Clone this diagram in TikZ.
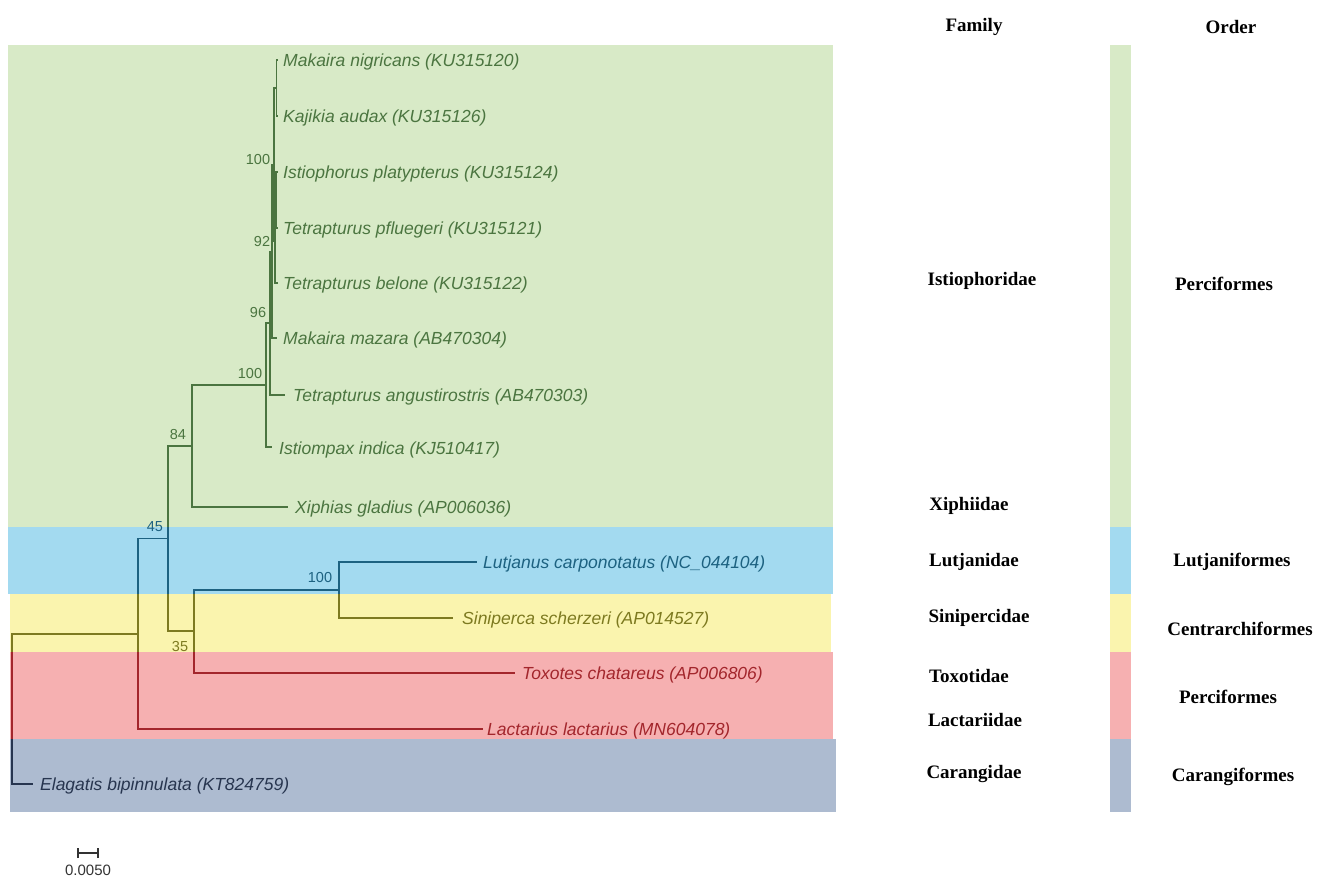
\documentclass[tikz,border=0pt]{standalone}
\usepackage{fontspec}
\setmainfont{Liberation Serif}
\setsansfont{Liberation Sans}
\definecolor{bgG}{HTML}{D8EAC7}
\definecolor{bgB}{HTML}{A3DAF0}
\definecolor{bgY}{HTML}{FAF4AE}
\definecolor{bgR}{HTML}{F6B0B1}
\definecolor{bgN}{HTML}{ADBBD0}
\definecolor{lnG}{HTML}{4B7540}
\definecolor{lnB}{HTML}{1D6281}
\definecolor{lnY}{HTML}{7D7A20}
\definecolor{lnR}{HTML}{A3262C}
\definecolor{lnN}{HTML}{27354F}
\tikzset{
  tiplab/.style={anchor=west, inner sep=0pt, font=\sffamily\itshape\fontsize{17.5}{20}\selectfont},
  boot/.style={inner sep=0pt, font=\sffamily\fontsize{14.5}{16}\selectfont},
  rlab/.style={inner sep=0pt, text=black, font=\bfseries\fontsize{19}{22}\selectfont},
  branch/.style={line width=1.4pt},
}
\newcommand\treeedges{%
  \draw[branch] (root) |- (n45);   \draw[branch] (root) |- (tEla);
  \draw[branch] (n45) |- (n168);   \draw[branch] (n45) |- (tLac);
  \draw[branch] (n168) |- (n84);   \draw[branch] (n168) |- (n35);
  \draw[branch] (n84) |- (n100a);  \draw[branch] (n84) |- (tXip);
  \draw[branch] (n35) |- (n100b);  \draw[branch] (n35) |- (tTox);
  \draw[branch] (n100b) |- (tLut); \draw[branch] (n100b) |- (tSin);
  \draw[branch] (n100a) |- (n96);  \draw[branch] (n100a) |- (tIsm);
  \draw[branch] (n96) |- (n92);    \draw[branch] (n96) |- (tAng);
  \draw[branch] (n92) |- (n100t);  \draw[branch] (n92) |- (tMaz);
  \draw[branch] (n100t) |- (nA);   \draw[branch] (n100t) |- (nB);
  \draw[branch] (nA) |- (tNig);    \draw[branch] (nA) |- (tKaj);
  \draw[branch] (nB) |- (nC);      \draw[branch] (nB) |- (tBel);
  \draw[branch] (nC) |- (tIst);    \draw[branch] (nC) |- (tPfl);
}
\begin{document}
\begin{tikzpicture}[x=1pt,y=-1pt]
\useasboundingbox (0,0) rectangle (1325,877);
% background bands
\fill[bgG] (8,45) rectangle (833,527);
\fill[bgB] (8,527) rectangle (833,594);
\fill[bgY] (10,594) rectangle (831,652);
\fill[bgR] (10,652) rectangle (833,739);
\fill[bgN] (10,739) rectangle (836,812);
% order bar
\fill[bgG] (1110,45) rectangle (1131,527);
\fill[bgB] (1110,527) rectangle (1131,594);
\fill[bgY] (1110,594) rectangle (1131,652);
\fill[bgR] (1110,652) rectangle (1131,739);
\fill[bgN] (1110,739) rectangle (1131,812);
% internal nodes
\coordinate (root)  at (12,709);
\coordinate (n45)   at (138,634);
\coordinate (n168)  at (168,538.5);
\coordinate (n84)   at (192,446);
\coordinate (n35)   at (194,631);
\coordinate (n100b) at (339,590);
\coordinate (n100a) at (266,385);
\coordinate (n96)   at (270,323);
\coordinate (n92)   at (272,251.5);
\coordinate (n100t) at (274,165);
\coordinate (nA)    at (276.5,88);
\coordinate (nB)    at (275,241.5);
\coordinate (nC)    at (276,200);
% tips
\coordinate (tNig) at (278,60);
\coordinate (tKaj) at (278,116);
\coordinate (tIst) at (278,172);
\coordinate (tPfl) at (278,228);
\coordinate (tBel) at (278,283);
\coordinate (tMaz) at (277,338);
\coordinate (tAng) at (285,395);
\coordinate (tIsm) at (272,447);
\coordinate (tXip) at (288,507);
\coordinate (tLut) at (477,562);
\coordinate (tSin) at (453,618);
\coordinate (tTox) at (515,673);
\coordinate (tLac) at (483,729);
\coordinate (tEla) at (33,784);
% branches, coloured band by band
\foreach \ya/\yb/\c in {0/527/lnG, 527/594/lnB, 594/652/lnY, 652/739/lnR, 739/877/lnN}{
  \begin{scope}
    \clip (0,\ya) rectangle (1325,\yb);
    \begin{scope}[color=\c]
      \treeedges
    \end{scope}
  \end{scope}
}
% tip labels
\node[tiplab, text=lnG] (lNig) at (283,61.5)  {Makaira nigricans (KU315120)};
\node[tiplab, text=lnG] (lKaj) at (283,117.5) {Kajikia audax (KU315126)};
\node[tiplab, text=lnG] (lIst) at (283,173.5) {Istiophorus platypterus (KU315124)};
\node[tiplab, text=lnG] (lPfl) at (283,229.5) {Tetrapturus pfluegeri (KU315121)};
\node[tiplab, text=lnG] (lBel) at (283,284.5) {Tetrapturus belone (KU315122)};
\node[tiplab, text=lnG] (lMaz) at (283,339.5) {Makaira mazara (AB470304)};
\node[tiplab, text=lnG] (lAng) at (293,396.5) {Tetrapturus angustirostris (AB470303)};
\node[tiplab, text=lnG] (lIsm) at (279,449.5) {Istiompax indica (KJ510417)};
\node[tiplab, text=lnG] (lXip) at (295,508.5) {Xiphias gladius (AP006036)};
\node[tiplab, text=lnB] (lLut) at (483,563.5) {Lutjanus carponotatus (NC\_044104)};
\node[tiplab, text=lnY] (lSin) at (462,619.5) {Siniperca scherzeri (AP014527)};
\node[tiplab, text=lnR] (lTox) at (522,674.5) {Toxotes chatareus (AP006806)};
\node[tiplab, text=lnR] (lLac) at (487,730.5) {Lactarius lactarius (MN604078)};
\node[tiplab, text=lnN] (lEla) at (40,785.5)  {Elagatis bipinnulata (KT824759)};
% bootstrap values
\node[boot, text=lnG] (b1) at (258,160) {100};
\node[boot, text=lnG] (b2) at (262,242) {92};
\node[boot, text=lnG] (b3) at (258,313) {96};
\node[boot, text=lnG] (b4) at (250,374) {100};
\node[boot, text=lnG] (b5) at (178,435) {84};
\node[boot, text=lnB] (b6) at (155,527) {45};
\node[boot, text=lnB] (b7) at (320,578) {100};
\node[boot, text=lnY] (b8) at (180,647) {35};
% family column
\node[rlab] (hFam) at (974,27)  {Family};
\node[rlab] (fIst) at (982,281) {Istiophoridae};
\node[rlab] (fXip) at (969,506) {Xiphiidae};
\node[rlab] (fLut) at (974,562) {Lutjanidae};
\node[rlab] (fSin) at (979,618) {Sinipercidae};
\node[rlab] (fTox) at (969,676) {Toxotidae};
\node[rlab] (fLac) at (975,720) {Lactariidae};
\node[rlab] (fCar) at (974,774) {Carangidae};
% order column
\node[rlab] (hOrd) at (1231,27)  {Order};
\node[rlab] (oPe1) at (1224,284) {Perciformes};
\node[rlab] (oLut) at (1232,562) {Lutjaniformes};
\node[rlab] (oCen) at (1240,629) {Centrarchiformes};
\node[rlab] (oPe2) at (1228,697) {Perciformes};
\node[rlab] (oCar) at (1233,777) {Carangiformes};
% scale bar
\coordinate (sbL) at (78,853);
\coordinate (sbR) at (98,853);
\draw[line width=1.3pt, black!80] (sbL) -- (sbR);
\draw[line width=1.3pt, black!80] ([yshift=-5]sbL) -- ([yshift=5]sbL);
\draw[line width=1.3pt, black!80] ([yshift=-5]sbR) -- ([yshift=5]sbR);
\node[inner sep=0pt, text=black!80, font=\sffamily\fontsize{15}{17}\selectfont] (sbT) at (88,870) {0.0050};
\end{tikzpicture}
\end{document}
